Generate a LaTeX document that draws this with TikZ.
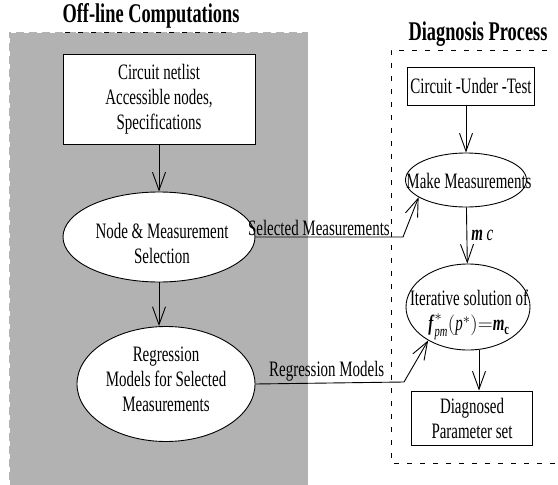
\documentclass[tikz,border=0pt]{standalone}
\usepackage{amsmath}
\usepackage{fontspec}
\setmainfont{Liberation Serif}[FakeStretch=0.68]
\usetikzlibrary{shapes.geometric,arrows.meta}

\begin{document}
\begin{tikzpicture}[x=1pt,y=-1pt,
    box/.style={draw,line width=0.9pt,fill=white,inner sep=0pt,align=center,
      font=\fontsize{22}{25}\selectfont},
    oval/.style={draw,ellipse,line width=0.9pt,fill=white,inner sep=0pt},
    txt/.style={align=center,inner sep=0pt,font=\fontsize{22}{25}\selectfont},
    title/.style={font=\fontsize{27}{30}\selectfont\bfseries},
    lbl/.style={font=\fontsize{22}{25}\selectfont,inner sep=1pt},
    arr/.style={line width=0.9pt,-{Straight Barb[length=18pt,width=13pt]}},
    frame/.style={dash pattern=on 5pt off 8pt,line width=1pt}]

    \useasboundingbox (0,0) rectangle (558,485);

    % off-line side
    \fill[black!30] (9,32) rectangle (308,485);
    \draw[frame,white] (9,485) -- (9,32) -- (308,32) -- (308,485);
    \draw[frame] (65,32) -- (232,32);

    % diagnosis side
    \draw[frame] (547,50) -- (391,50) -- (391,463) -- (558,463);

    \node[title] (offline) at (151,16) {Off-line Computations};
    \node[title] (diagproc) at (478,34) {Diagnosis Process};

    \node[box,minimum width=192pt,minimum height=90pt] (netlist) at (159,99)
      {Circuit netlist\\Accessible nodes,\\Specifications};

    \node[oval,minimum width=192pt,minimum height=90pt] (select) at (159,237) {};
    \node[txt] (selecttxt) at (162,243) {Node \& Measurement\\Selection};

    \node[oval,minimum width=178pt,minimum height=115pt] (regress) at (166,384) {};
    \node[txt] (regresstxt) at (166,379)
      {Regression\\Models for Selected\\Measurements};

    \node[box,minimum width=127pt,minimum height=38pt] (cut) at (471,86)
      {Circuit -Under -Test};

    \node[oval,minimum width=121pt,minimum height=54pt] (make) at (466,180) {};
    \node[txt] (maketxt) at (469,181) {Make Measurements};

    \node[oval,minimum width=124pt,minimum height=86pt] (iter) at (468,307) {};
    \node[txt] (itertxt) at (469,315)
      {Iterative solution of\\
       $\text{\textbf{\textit{f}}}^{*}_{\text{\textit{pm}}}(\text{\textit{p}}^{*})
        {=}\text{\textbf{\textit{m}}}_{\text{\textbf{c}}}$};

    \node[box,minimum width=121pt,minimum height=54pt] (diag) at (472,418)
      {Diagnosed\\Parameter set};

    \coordinate (selbend) at (403,237);
    \coordinate (regbend) at (404,382);

    \draw[arr] (netlist) -- (select);
    \draw[arr] (select.south) -- (select.south |- regress.north);
    \draw[arr] (cut.south -| make.north) -- (make.north);
    \draw[arr] (make) -- node[lbl,right=3pt] {\textbf{\textit{m}}\,\textit{c}} (iter);
    \draw[arr] ([xshift=11pt]iter.south) -- ([xshift=11pt]iter.south |- diag.north);

    \draw[arr] (select.east) -- node[lbl,above,pos=0.43] {Selected Measurements}
      (selbend) -- (make.200);
    \draw[arr] (regress.east) -- node[lbl,above,pos=0.48] {Regression Models}
      (regbend) -- (iter.220);

\end{tikzpicture}
\end{document}
